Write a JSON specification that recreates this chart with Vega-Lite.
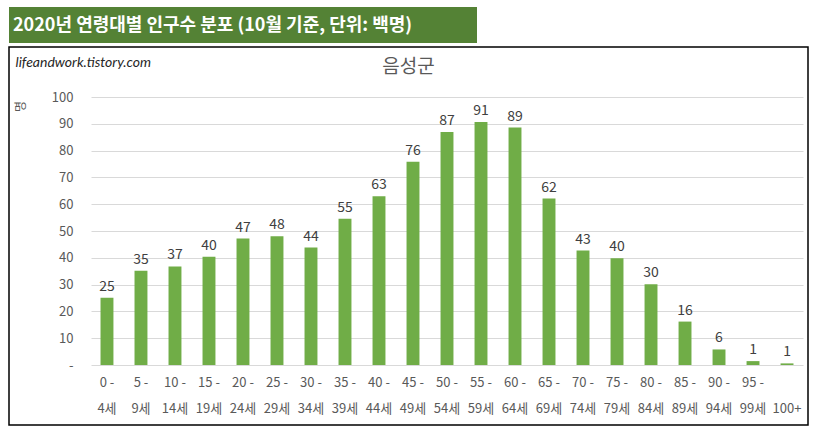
{
  "$schema": "https://vega.github.io/schema/vega-lite/v6.json",
  "padding": {"left": 8, "top": 7, "right": 0, "bottom": 0},
  "background": "white",
  "config": {"font": "Noto Sans CJK KR", "view": {"stroke": null}},
  "spacing": 3,
  "vconcat": [
    {
      "width": 468,
      "height": 36,
      "data": {"values": [{}]},
      "mark": {"type": "rect", "color": "#548235"},
      "title": {
        "text": "2020년 연령대별 인구수 분포 (10월 기준, 단위: 백명)",
        "anchor": "start",
        "frame": "group",
        "offset": -28,
        "dx": 4,
        "color": "white",
        "fontSize": 18,
        "fontWeight": "bold"
      }
    },
    {
      "width": 799,
      "height": 378,
      "view": {"stroke": "black", "strokeWidth": 1.5},
      "title": {
        "text": "음성군",
        "fontSize": 19,
        "fontWeight": "normal",
        "color": "#595959",
        "anchor": "middle",
        "frame": "group",
        "offset": -30
      },
      "data": {
        "values": [
          {"age": "0 -|4세", "pop": 25.1},
          {"age": "5 -|9세", "pop": 35.2},
          {"age": "10 -|14세", "pop": 36.8},
          {"age": "15 -|19세", "pop": 40.4},
          {"age": "20 -|24세", "pop": 47.2},
          {"age": "25 -|29세", "pop": 48.0},
          {"age": "30 -|34세", "pop": 43.8},
          {"age": "35 -|39세", "pop": 54.6},
          {"age": "40 -|44세", "pop": 63.0},
          {"age": "45 -|49세", "pop": 75.8},
          {"age": "50 -|54세", "pop": 86.9},
          {"age": "55 -|59세", "pop": 90.7},
          {"age": "60 -|64세", "pop": 88.6},
          {"age": "65 -|69세", "pop": 62.1},
          {"age": "70 -|74세", "pop": 42.7},
          {"age": "75 -|79세", "pop": 39.8},
          {"age": "80 -|84세", "pop": 30.1},
          {"age": "85 -|89세", "pop": 16.2},
          {"age": "90 -|94세", "pop": 5.8},
          {"age": "95 -|99세", "pop": 1.45},
          {"age": "|100+", "pop": 0.6}
        ]
      },
      "encoding": {
        "x": {
          "field": "age",
          "type": "nominal",
          "sort": null,
          "scale": {"range": [82, 794], "paddingInner": 0.62, "paddingOuter": 0.28},
          "axis": {
            "orient": "bottom",
            "offset": -60,
            "domain": false,
            "ticks": false,
            "grid": false,
            "labelAngle": 0,
            "labelPadding": 11,
            "labelFontSize": 13,
            "labelColor": "#595959",
            "labelLineHeight": 26,
            "labelBaseline": "top",
            "labelOverlap": false,
            "labelBound": false,
            "labelLimit": 0,
            "labelExpr": "split(datum.label, '|')",
            "title": null
          }
        },
        "y": {
          "field": "pop",
          "type": "quantitative",
          "scale": {"domain": [0, 100], "range": [318, 50], "nice": false, "zero": true},
          "axis": {
            "orient": "left",
            "offset": -82,
            "values": [0, 10, 20, 30, 40, 50, 60, 70, 80, 90, 100],
            "domain": false,
            "ticks": false,
            "grid": true,
            "gridColor": "#d9d9d9",
            "gridWidth": 1,
            "labelExpr": "datum.value == 0 ? '-' : datum.label",
            "labelPadding": 18,
            "labelFontSize": 13,
            "labelColor": "#595959",
            "title": "명",
            "titleX": -64,
            "titleY": 59,
            "titleFontSize": 12,
            "titleFontWeight": "normal",
            "titleColor": "#595959"
          }
        }
      },
      "layer": [
        {"mark": {"type": "bar", "color": "#70AD47"}},
        {
          "mark": {"type": "text", "baseline": "alphabetic", "dy": -7, "fontSize": 14, "color": "#404040"},
          "encoding": {
            "text": {"field": "pop", "type": "quantitative", "format": ".0f"},
            "x": {
              "field": "age",
              "type": "nominal",
              "sort": null,
              "axis": {
                "orient": "top",
                "domain": false,
                "ticks": false,
                "labels": false,
                "grid": false,
                "title": "lifeandwork.tistory.com",
                "titleX": 6,
                "titleY": 15,
                "titleAlign": "left",
                "titleAnchor": null,
                "titleBaseline": "middle",
                "titleFont": "Lato",
                "titleFontSize": 14,
                "titleFontStyle": "italic",
                "titleFontWeight": "normal",
                "titleColor": "#262626"
              }
            }
          }
        }
      ],
      "resolve": {"axis": {"x": "independent"}}
    }
  ]
}
